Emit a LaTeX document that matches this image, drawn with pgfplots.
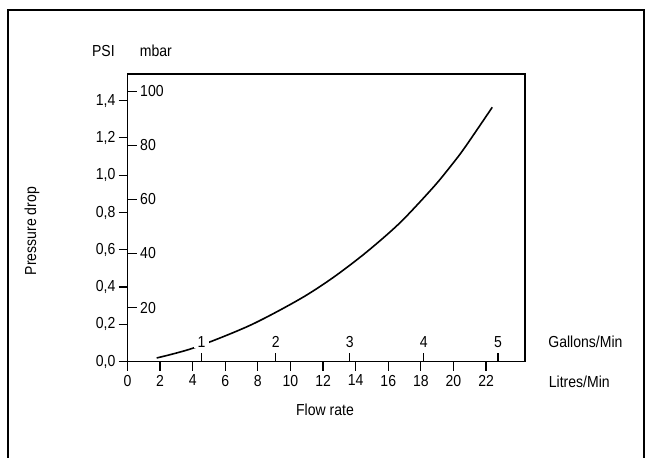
\documentclass[border=0pt]{standalone}
\usepackage{fontspec}
\setmainfont{Liberation Sans}[FakeStretch=0.88]
\usepackage{pgfplots}
\pgfplotsset{compat=1.18}

% shared geometry of the plotting box (units: bp, picture is 646 x 458)
\pgfplotsset{
  frame/.style={
    scale only axis, width=397.5bp, height=287.7bp,
    at={(127.5bp,96.3bp)}, anchor=south west,
    major tick length=9bp,
    tick style={line width=1.2bp, black},
    /pgf/number format/assume math mode=true,
  },
}

\begin{document}
\fontsize{16}{19}\selectfont
\begin{tikzpicture}[x=1bp,y=1bp]
\useasboundingbox (0,0) rectangle (646,458);
\draw[line width=1.6bp] (8,0) -- (8,448) -- (644,448) -- (644,0);

% litres/min vs PSI
\begin{axis}[frame,
  xmin=0, xmax=24.39, ymin=0, ymax=1.5426,
  axis line style={line width=1.6bp},
  tick align=outside, xtick pos=bottom, ytick pos=left,
  xtick={0,2,4,6,8,10,12,14,16,18,20,22},
  xticklabels={0,2,4,6,8,10,12,14,16,18,20,22},
  ytick={0,0.2,0.4,0.6,0.8,1.0,1.2,1.4},
  yticklabels={{0,0},{0,2},{0,4},{0,6},{0,8},{1,0},{1,2},{1,4}},
  yticklabel style={inner xsep=3bp},
  xticklabel style={inner ysep=4bp},
]
\addplot[smooth, line width=1.6bp, black] coordinates {
  (1.79,0.020) (4.10,0.075) (7.52,0.195) (10.58,0.336)
  (12.63,0.452) (14.67,0.588) (16.72,0.745) (18.76,0.935)
  (19.89,1.055) (20.71,1.150) (22.38,1.364)
};
\end{axis}

% gallons/min and mbar, ticks inside
\begin{axis}[frame,
  xmin=0, xmax=5.365, ymin=0, ymax=106.36,
  axis line style={draw=none},
  tick align=inside, xtick pos=bottom, ytick pos=left,
  xtick={1,2,3,4,5}, xticklabels={1,2,3,4,5},
  ytick={20,40,60,80,100}, yticklabels={20,40,60,80,100},
  xticklabel style={anchor=south, yshift=13bp, fill=white,
    inner xsep=4bp, inner ysep=1bp},
  yticklabel style={anchor=west, inner xsep=2bp, xshift=10.5bp},
]
\addplot[draw=none] coordinates {(0,0)};
\end{axis}

\node at (103.4,406.7) {PSI};
\node at (155.8,406.7) {mbar};
\node at (585.4,116.3) {Gallons/Min};
\node at (579.3,76.3) {Litres/Min};
\node at (325,48) {Flow rate};
\node[rotate=90] at (32,227) {Pressure drop};
\end{tikzpicture}
\end{document}
